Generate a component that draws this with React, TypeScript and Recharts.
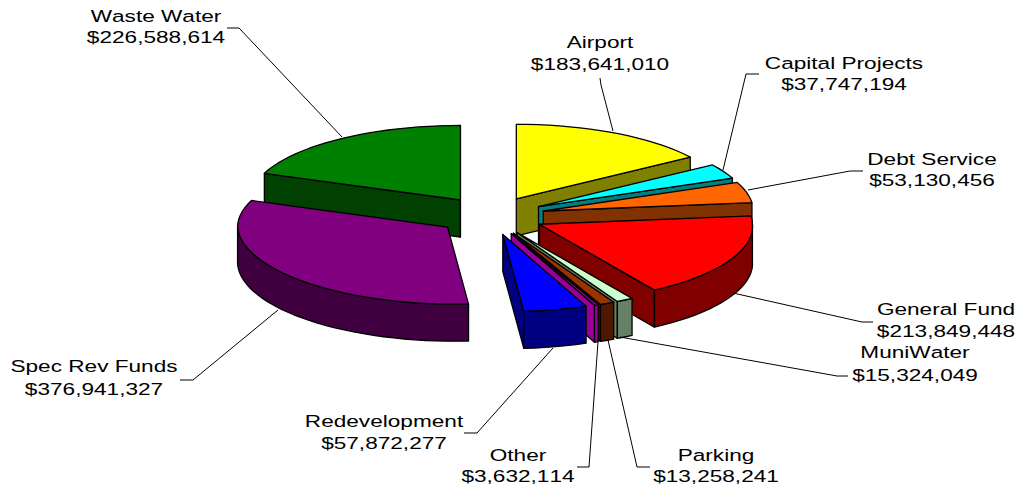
import { PieChart, Pie } from "recharts";

const names = ["Waste Water", "Airport", "Capital Projects", "Debt Service", "General Fund", "MuniWater", "Parking", "Other", "Redevelopment", "Spec Rev Funds"];
const values = [226588614, 183641010, 37747194, 53130456, 213849448, 15324049, 13258241, 3632114, 57872277, 376941327];
const topColors = ["#008000", "#FFFF00", "#00FFFF", "#FF6600", "#FF0000", "#CCFFCC", "#993300", "#990099", "#0000FF", "#800080"];
const sideColors = ["#004000", "#808000", "#008080", "#803300", "#800000", "#668066", "#4D1900", "#990099", "#000080", "#400040"];

// label centre, two baselines, leader line, one entry per slice
const labelLayout = [
  { x: 156, y1: 22, y2: 43, line: "227,28 239,28 342,137" },
  { x: 600, y1: 48, y2: 70, line: "600,78 601,85 613,131" },
  { x: 844, y1: 69, y2: 90, line: "759,74 746,74 723,170" },
  { x: 932, y1: 165, y2: 186, line: "863,171 850,171 748,190" },
  { x: 946, y1: 315, y2: 337, line: "873,322 862,322 733,293" },
  { x: 915, y1: 358, y2: 381, line: "848,376 837,376 620,337" },
  { x: 716, y1: 461, y2: 482, line: "650,467 637,467 608,340" },
  { x: 518, y1: 461, y2: 482, line: "577,467 589,467 598,342" },
  { x: 384, y1: 427, y2: 449, line: "464,433 477,433 553,348" },
  { x: 94, y1: 372, y2: 395, line: "180,380 193,380 278,310" },
];

const data = names.map((name, i) => ({ name, value: values[i], fill: topColors[i] }));
const total = values.reduce((a, b) => a + b, 0);

const WIDTH = 1019;
const HEIGHT = 486;
const TILT = 0.355; // vertical squash of the pie
const EXPLODE = 0.257;
const DEPTH = 37;
const TEXT_STRETCH = 1.33;
// the front of the original pie leans right and sits a little lower
const FRONT_SHIFT_X = 7;
const FRONT_SHIFT_Y = 2.5;

const rad = (d: number) => (d * Math.PI) / 180;

function Slice3D(props: any) {
  const { cx, cy, outerRadius: r, startAngle, endAngle, index, fill } = props;
  const s = 90 - startAngle;
  const e = 90 - endAngle;
  const mid = (s + e) / 2;
  const rx = r;
  const ry = r * TILT;
  const ax = cx + EXPLODE * rx * Math.sin(rad(mid));
  const ay = cy - EXPLODE * ry * Math.cos(rad(mid));
  // the slice that starts near 3 o'clock bulges a bit so it covers its neighbour's side
  const bulges = s > 80 && s < 100;
  const pt = (t: number, dz = 0) => {
    const c = Math.cos(rad(t));
    const front = Math.max(0, -c);
    const bulge = bulges ? 3 * Math.pow(Math.max(0, Math.sin(rad(t))), 6) : 0;
    return `${ax + rx * Math.sin(rad(t)) + FRONT_SHIFT_X * front + bulge} ${ay - ry * c + FRONT_SHIFT_Y * front + dz}`;
  };
  // rim as short straight pieces, like the original
  const rim = (a: number, b: number, dz = 0) => {
    const n = Math.max(1, Math.ceil(Math.abs(b - a) / 3));
    const out: string[] = [];
    for (let i = 0; i <= n; i++) out.push(pt(a + ((b - a) * i) / n, dz));
    return out;
  };
  const radial = (t: number) =>
    `M ${ax} ${ay} L ${pt(t)} L ${pt(t, DEPTH)} L ${ax} ${ay + DEPTH} Z`;

  const side = sideColors[index];
  const faces: string[] = [];
  if (Math.sin(rad(s)) < 0) faces.push(radial(s));
  if (Math.sin(rad(e)) > 0) faces.push(radial(e));
  const from = Math.max(s, 90);
  const to = Math.min(e, 270);
  if (to > from) {
    faces.push(`M ${[...rim(from, to), ...rim(to, from, DEPTH)].join(" L ")} Z`);
  }
  return (
    <g stroke="#000" strokeWidth={1.3} strokeLinejoin="round">
      {faces.map((d, i) => (
        <path key={i} d={d} fill={side} />
      ))}
      <path d={`M ${ax} ${ay} L ${rim(s, e).join(" L ")} Z`} fill={fill} />
    </g>
  );
}

function SliceLabel(props: any) {
  const { index, name, value } = props;
  const l = labelLayout[index];
  const line = (text: string, y: number) => (
    <text
      transform={`translate(${l.x} ${y}) scale(${TEXT_STRETCH} 1)`}
      textAnchor="middle"
      fontFamily="'Liberation Sans', Arial, sans-serif"
      fontSize={17}
      fill="#000"
      style={{ fontKerning: "none" }}
    >
      {text}
    </text>
  );
  return (
    <g>
      <polyline points={l.line} fill="none" stroke="#000" strokeWidth={1} />
      {line(name, l.y1)}
      {line("$" + value.toLocaleString("en-US"), l.y2)}
    </g>
  );
}

export default function App() {
  const start = 90 + (360 * values[0]) / total;
  return (
    <div style={{ position: "absolute", left: 0, top: 0, width: WIDTH, height: HEIGHT, background: "#fff" }}>
      <PieChart width={WIDTH} height={HEIGHT} margin={{ top: 0, right: 0, bottom: 0, left: 0 }}>
        <Pie
          data={data}
          dataKey="value"
          nameKey="name"
          cx={491}
          cy={215.8}
          innerRadius={0}
          outerRadius={210}
          startAngle={start}
          endAngle={start - 360}
          paddingAngle={0}
          shape={Slice3D}
          label={SliceLabel}
          labelLine={false}
          isAnimationActive={false}
        />
      </PieChart>
    </div>
  );
}
